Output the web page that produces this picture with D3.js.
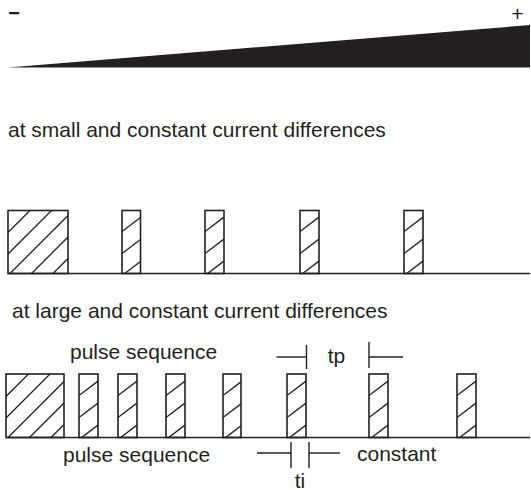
<!DOCTYPE html>
<html>
<head>
<meta charset="utf-8">
<script src="https://cdn.jsdelivr.net/npm/d3@7"></script>
<style>
  body { margin: 0; background: #fff; }
  text { font-family: "Liberation Sans", Arial, sans-serif; fill: #231f20; font-size: 21px; }
</style>
</head>
<body>
<svg id="chart" width="531" height="490"></svg>
<script>
'use strict';

// pulses as [start, end] on the time axis, first one is the constant block
let smallPulses = [[8, 68], [122, 140.5], [205, 224], [300, 319], [404, 423]];
let largePulses = [[6, 64], [79, 98], [118, 137], [166, 185], [223, 241], [287, 306], [369, 388], [457, 476]];
let timeExtent = [8, 530];
let wedgeLevels = [0, 1]; // current difference from - to +
let tpMark = [306.5, 369]; // pause between pulses
let tiMark = [291, 309];   // pulse length
let labels = {
    small: 'at small and constant current differences',
    large: 'at large and constant current differences',
    seq: 'pulse sequence',
    constant: 'constant',
    tp: 'tp',
    ti: 'ti'
};

let ink = '#231f20';
let svg = d3.select('#chart');

let x = d3.scaleLinear().domain([0, 531]).range([0, 531]);

// wedge on top
let wedgeX = d3.scaleLinear().domain([0, 1]).range([8, 530]);
let wedgeY = d3.scaleLinear().domain([0, 1]).range([67.5, 25]);
let area = d3.area()
    .x(d => wedgeX(d))
    .y0(wedgeY(0))
    .y1(d => wedgeY(d));
svg.append('path')
    .datum(wedgeLevels)
    .attr('d', area)
    .attr('fill', ink);

svg.append('text').attr('x', 14).attr('y', 19.5).attr('text-anchor', 'middle')
    .style('font-size', '20px').style('font-weight', 'bold').text('\u2212');
svg.append('text').attr('x', 517.5).attr('y', 20.5).attr('text-anchor', 'middle')
    .style('font-size', '21px').text('+');

svg.append('text').attr('x', 8).attr('y', 137).text(labels.small);
svg.append('text').attr('x', 12).attr('y', 318).text(labels.large);

/**
 * Draw one pulse train with hatched bars
 */
function pulseTrain(id, pulses, y, xEnd) {
    let g = svg.append('g').attr('id', id);
    let bottom = y(0), top = y(1);

    pulses.forEach(function(p, i) {
        let x0 = x(p[0]), x1 = x(p[1]);
        let clipId = id + '-clip-' + i;
        g.append('clipPath').attr('id', clipId)
            .append('rect')
            .attr('x', x0).attr('y', top)
            .attr('width', x1 - x0).attr('height', bottom - top);

        // wide block has 45 degree hatching, narrow pulses flatter
        let wide = (x1 - x0) > 40;
        let slope = wide ? 1 : 0.76;
        let step = wide ? 21.5 : 22;
        let offs = d3.range(-5, 5).map(k => 2 + step * k);
        g.append('g').attr('clip-path', 'url(#' + clipId + ')')
            .selectAll('line')
            .data(offs)
            .join('line')
            .attr('x1', x0)
            .attr('y1', d => bottom + d)
            .attr('x2', x1)
            .attr('y2', d => bottom + d - slope * (x1 - x0))
            .attr('stroke', ink)
            .attr('stroke-width', 1.3);

        g.append('rect')
            .attr('x', x0).attr('y', top)
            .attr('width', x1 - x0).attr('height', bottom - top)
            .attr('fill', 'none')
            .attr('stroke', ink)
            .attr('stroke-width', 1.6);
    });

    g.append('line')
        .attr('x1', x(pulses[0][0])).attr('x2', x(xEnd))
        .attr('y1', bottom).attr('y2', bottom)
        .attr('stroke', ink)
        .attr('stroke-width', 1.6);
}

let ySmall = d3.scaleLinear().domain([0, 1]).range([273.5, 210.5]);
let yLarge = d3.scaleLinear().domain([0, 1]).range([437.5, 374]);
pulseTrain('small', smallPulses, ySmall, timeExtent[1]);
pulseTrain('large', largePulses, yLarge, timeExtent[1]);

svg.append('text').attr('x', 70).attr('y', 359).text(labels.seq);
svg.append('text').attr('x', 63).attr('y', 462).text(labels.seq);
svg.append('text').attr('x', 357).attr('y', 461).text(labels.constant);

/**
 * Dimension marker: vertical bar with a short horizontal lead pointing outward
 */
function marker(xv, dir, yMid, y0, y1, len) {
    svg.append('line')
        .attr('x1', x(xv)).attr('x2', x(xv))
        .attr('y1', y0).attr('y2', y1)
        .attr('stroke', ink).attr('stroke-width', 1.4);
    svg.append('line')
        .attr('x1', x(xv)).attr('x2', x(xv) + dir * len)
        .attr('y1', yMid).attr('y2', yMid)
        .attr('stroke', ink).attr('stroke-width', 1.4);
}

marker(tpMark[0], -1, 357, 345, 369, 30);
marker(tpMark[1], 1, 357, 342, 368, 34);
svg.append('text').attr('x', 336.5).attr('y', 363).attr('text-anchor', 'middle')
    .text(labels.tp);

marker(tiMark[0], -1, 453, 442, 468, 34);
marker(tiMark[1], 1, 453, 442, 468, 31);
svg.append('text').attr('x', 300).attr('y', 487.5).attr('text-anchor', 'middle')
    .text(labels.ti);
</script>
</body>
</html>
